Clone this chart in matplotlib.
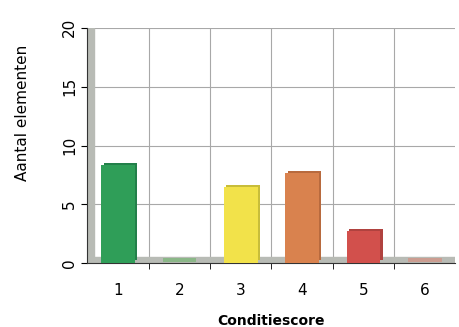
import numpy as np
import matplotlib
matplotlib.use('Agg')
from matplotlib import pyplot as plt

# Data
scores = [1, 2, 3, 4, 5, 6]
counts = [8.3, 0, 6.4, 7.6, 2.7, 0]
front_colors = ['#2f9e58', '#6db56a', '#f2e24a', '#d9824e', '#d2504c', '#d98a7a']
side_colors = ['#23804a', '#5a9a58', '#c8bd3a', '#b86a3e', '#b0423f', '#b87464']
y_ticks = [0, 5, 10, 15, 20]

fig = plt.figure(figsize=(4.6, 3.27), dpi=100)
ax = fig.add_axes([0.19, 0.195, 0.80, 0.72])

x = np.array(scores)
h = np.array(counts)

# Back wall grid
ax.set_xlim(0.5, 6.5)
ax.set_ylim(0, 20)
ax.set_yticks(y_ticks)
for v in y_ticks[1:]:
    ax.axhline(v, color='#a8a8a8', lw=0.8, zorder=0)
for xv in np.arange(1.5, 6.5, 1.0):
    ax.axvline(xv, color='#a8a8a8', lw=0.8, zorder=0)

# Left wall and floor (flat stand-in for the 3D look)
ax.axvspan(0.5, 0.6, color='#b8bbb5', zorder=1)
ax.axhspan(0, 0.55, color='#b8bbb5', zorder=1)

# Side faces slightly behind, then front faces
ax.bar(x + 0.04, h, width=0.55, bottom=0.25, color=side_colors, zorder=2)
ax.bar(x, h, width=0.55, bottom=0.05, color=front_colors, zorder=3)
# zero-height bars show as a thin slab on the floor
for xi, hi, c in zip(x, h, front_colors):
    if hi == 0:
        ax.bar(xi, 0.35, width=0.55, bottom=0.1, color=c, alpha=0.6, zorder=3)

for s in ['top', 'right']:
    ax.spines[s].set_visible(False)
ax.spines['left'].set_color('#333333')
ax.spines['bottom'].set_color('#333333')

ax.set_xticks(x)
ax.set_xticklabels([str(s) for s in scores], fontsize=11)
ax.set_xticks(np.arange(1.5, 6.5, 1.0), minor=True)
ax.tick_params(axis='x', which='major', length=0, pad=14)
ax.tick_params(axis='x', which='minor', length=4, direction='out')
ax.tick_params(axis='y', length=4, labelsize=11, labelrotation=90)
for lab in ax.get_yticklabels():
    lab.set_va('center')

ax.set_ylabel('Aantal elementen', fontsize=11)
ax.yaxis.set_label_coords(-0.155, 0.64)
ax.set_xlabel('Conditiescore', fontsize=10, fontweight='bold', labelpad=12)

plt.savefig('out.png', dpi=100)
